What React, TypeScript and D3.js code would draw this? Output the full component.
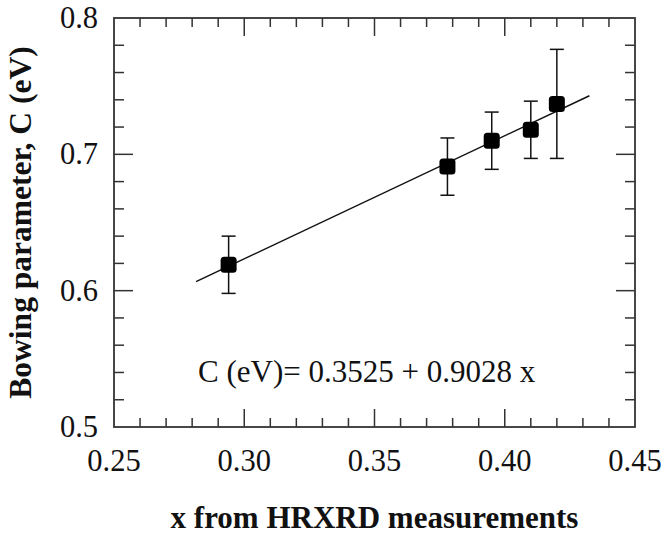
import React from "react";
import * as d3 from "d3";

const xValues = [0.294, 0.378, 0.395, 0.41, 0.42];
const yValues = [0.619, 0.691, 0.71, 0.718, 0.737];
const yErrors = [0.021, 0.021, 0.021, 0.021, 0.04];
const fitIntercept = 0.3525;
const fitSlope = 0.9028;
const fitRange = [0.2815, 0.4325];
const xTickLabels = ["0.25", "0.30", "0.35", "0.40", "0.45"];
const yTickLabels = ["0.5", "0.6", "0.7", "0.8"];
const equationText = "C (eV)= 0.3525 + 0.9028 x";
const xTitle = "x from HRXRD measurements";
const yTitle = "Bowing parameter, C (eV)";

const W = 663;
const H = 535;
const left = 114;
const right = 635;
const top = 18;
const bottom = 427;

export default function App() {
  const x = d3.scaleLinear().domain([0.25, 0.45]).range([left, right]);
  const y = d3.scaleLinear().domain([0.5, 0.8]).range([bottom, top]);
  const font = "'Liberation Serif', 'Times New Roman', serif";
  const axisColor = "#333";

  const xMinor = d3.range(0, 21).map((i) => 0.25 + i * 0.01);
  const yMinor = d3.range(0, 16).map((i) => 0.5 + i * 0.02);
  const isMajorX = (i: number) => i % 5 === 0;
  const isMajorY = (i: number) => i % 5 === 0;

  const line = d3
    .line<number>()
    .x((d) => x(d))
    .y((d) => y(fitIntercept + fitSlope * d));

  const ms = 16;

  return (
    <svg
      width={W}
      height={H}
      style={{ position: "absolute", left: 0, top: 0, background: "#fff" }}
    >
      <rect x={0} y={0} width={W} height={H} fill="#fff" />
      {xMinor.map((v, i) => {
        const len = isMajorX(i) ? 18 : 9;
        if (i === 0 || i === 20) return null;
        return (
          <g key={"xt" + i} stroke={axisColor} strokeWidth={1.5}>
            <line x1={x(v)} x2={x(v)} y1={bottom} y2={bottom - len} />
            <line x1={x(v)} x2={x(v)} y1={top} y2={top + len} />
          </g>
        );
      })}
      {yMinor.map((v, i) => {
        const len = isMajorY(i) ? 19 : 10;
        if (i === 0 || i === 15) return null;
        return (
          <g key={"yt" + i} stroke={axisColor} strokeWidth={1.5}>
            <line x1={left} x2={left + len} y1={y(v)} y2={y(v)} />
            <line x1={right} x2={right - len} y1={y(v)} y2={y(v)} />
          </g>
        );
      })}
      <rect
        x={left}
        y={top}
        width={right - left}
        height={bottom - top}
        fill="none"
        stroke={axisColor}
        strokeWidth={1.8}
      />
      {xTickLabels.map((t) => (
        <text
          key={"xl" + t}
          x={x(+t)}
          y={471}
          textAnchor="middle"
          fontFamily={font}
          fontSize={30.5}
          fill="#111"
        >
          {t}
        </text>
      ))}
      {yTickLabels.map((t) => (
        <text
          key={"yl" + t}
          x={98}
          y={y(+t) + 10}
          textAnchor="end"
          fontFamily={font}
          fontSize={30.5}
          fill="#111"
        >
          {t}
        </text>
      ))}
      <path d={line(fitRange) || ""} stroke="#111" strokeWidth={1.5} fill="none" />
      {xValues.map((xv, i) => {
        const cx = x(xv);
        const y1 = y(yValues[i] + yErrors[i]);
        const y2 = y(yValues[i] - yErrors[i]);
        return (
          <g key={"eb" + i} stroke="#111" strokeWidth={1.5}>
            <line x1={cx} x2={cx} y1={y1} y2={y2} />
            <line x1={cx - 7} x2={cx + 7} y1={y1} y2={y1} />
            <line x1={cx - 7} x2={cx + 7} y1={y2} y2={y2} />
          </g>
        );
      })}
      {xValues.map((xv, i) => (
        <rect
          key={"m" + i}
          x={x(xv) - ms / 2}
          y={y(yValues[i]) - ms / 2}
          width={ms}
          height={ms}
          rx={3.5}
          fill="#000"
        />
      ))}
      <text x={198} y={382} fontFamily={font} fontSize={31} fill="#111">
        {equationText}
      </text>
      <text
        x={(left + right) / 2}
        y={528}
        textAnchor="middle"
        fontFamily={font}
        fontWeight="bold"
        fontSize={31}
        fill="#111"
      >
        {xTitle}
      </text>
      <text
        transform={`translate(31, ${(top + bottom) / 2}) rotate(-90)`}
        textAnchor="middle"
        fontFamily={font}
        fontWeight="bold"
        fontSize={31.5}
        fill="#111"
      >
        {yTitle}
      </text>
    </svg>
  );
}
